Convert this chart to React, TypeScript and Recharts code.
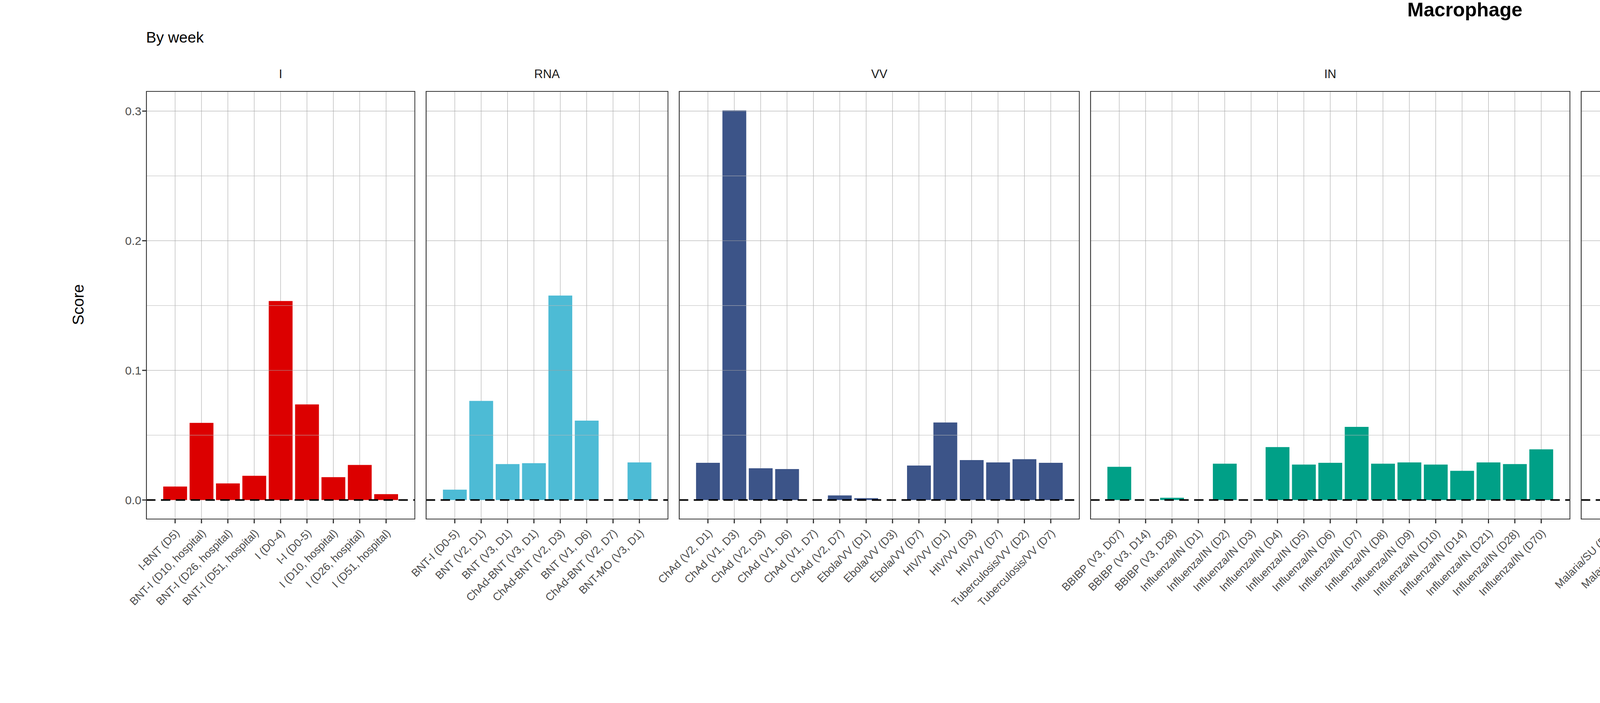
import React from "react";
import { BarChart, Bar, XAxis, YAxis, CartesianGrid, ReferenceLine } from "recharts";

const panelNames = ["I", "RNA", "VV", "IN", "SU", "CONJ", "N/SU", "LA", "PS"];
const iLabels = ["I-BNT (D5)", "BNT-I (D10, hospital)", "BNT-I (D26, hospital)", "BNT-I (D51, hospital)", "I (D0-4)", "I-I (D0-5)", "I (D10, hospital)", "I (D26, hospital)", "I (D51, hospital)"];
const iValues = [0.0104, 0.0595, 0.0128, 0.0187, 0.1535, 0.0737, 0.0176, 0.027, 0.0045];
const rnaLabels = ["BNT-I (D0-5)", "BNT (V2, D1)", "BNT (V3, D1)", "ChAd-BNT (V3, D1)", "ChAd-BNT (V2, D3)", "BNT (V1, D6)", "ChAd-BNT (V2, D7)", "BNT-MO (V3, D1)"];
const rnaValues = [0.008, 0.0764, 0.0277, 0.0284, 0.1577, 0.0612, 0, 0.029];
const vvLabels = ["ChAd (V2, D1)", "ChAd (V1, D3)", "ChAd (V2, D3)", "ChAd (V1, D6)", "ChAd (V1, D7)", "ChAd (V2, D7)", "Ebola/VV (D1)", "Ebola/VV (D3)", "Ebola/VV (D7)", "HIV/VV (D1)", "HIV/VV (D3)", "HIV/VV (D7)", "Tuberculosis/VV (D2)", "Tuberculosis/VV (D7)"];
const vvValues = [0.0287, 0.3005, 0.0245, 0.0239, 0, 0.0035, 0.0014, 0, 0.0266, 0.0598, 0.0308, 0.029, 0.0315, 0.0287];
const inLabels = ["BBIBP (V3, D07)", "BBIBP (V3, D14)", "BBIBP (V3, D28)", "Influenza/IN (D1)", "Influenza/IN (D2)", "Influenza/IN (D3)", "Influenza/IN (D4)", "Influenza/IN (D5)", "Influenza/IN (D6)", "Influenza/IN (D7)", "Influenza/IN (D8)", "Influenza/IN (D9)", "Influenza/IN (D10)", "Influenza/IN (D14)", "Influenza/IN (D21)", "Influenza/IN (D28)", "Influenza/IN (D70)"];
const inValues = [0.0256, 0, 0.0017, 0, 0.028, 0, 0.0408, 0.0273, 0.0287, 0.0564, 0.028, 0.029, 0.0273, 0.0225, 0.029, 0.0277, 0.0391];
const suLabels = ["Malaria/SU (D1)", "Malaria/SU (D3)", "Malaria/SU (D14)", "ZF2001 (V3, D07)", "ZF2001 (V3, D14)", "ZF2001 (V3, D28)"];
const suValues = [0, 0.0214, 0.0408, 0, 0.0069, 0.0436];
const conjLabels = ["Meningococcus/CONJ (D3)", "Meningococcus/CONJ (D7)"];
const conjValues = [0.0332, 0.0256];
const nsuLabels = ["Hepatitis A/B/IN/SU (D7)"];
const nsuValues = [0.0398];
const laLabels = ["Influenza/LA (D3)", "Influenza/LA (D7)", "Smallpox/LA (D3)", "Smallpox/LA (D7)", "Smallpox/LA (D10)", "Smallpox/LA (D13)", "Smallpox/LA (D21)", "Varicella Zoster/LA (D1)", "Varicella Zoster/LA (D3)", "Varicella Zoster/LA (D7)", "Yellow Fever/LA (D1)", "Yellow Fever/LA (D2)", "Yellow Fever/LA (D3)", "Yellow Fever/LA (D5)", "Yellow Fever/LA (D7)", "Yellow Fever/LA (D10)", "Yellow Fever/LA (D14)", "Yellow Fever/LA (D21)", "Yellow Fever/LA (D28)", "Yellow Fever/LA (D60)", "Yellow Fever/LA (D84)"];
const laValues = [0, 0.0194, 0.0284, 0.0263, 0.028, 0.0273, 0.029, 0.0284, 0.029, 0.0287, 0.0398, 0.0353, 0.0062, 0.0339, 0, 0.027, 0.0211, 0.0322, 0.0225, 0.0391, 0.0297];
const psLabels = ["Meningococcus/PS (D3)", "Meningococcus/PS (D7)", "Pneumococcus/PS (D1)", "Pneumococcus/PS (D3)", "Pneumococcus/PS (D7)", "Pneumococcus/PS (D10)", "Pneumococcus/PS (D14)", "Pneumococcus/PS (D21)", "Pneumococcus/PS (D28)"];
const psValues = [0.0284, 0.0287, 0.036, 0.0304, 0.0346, 0.0297, 0.029, 0.028, 0.0197];

const panelLabels = [iLabels, rnaLabels, vvLabels, inLabels, suLabels, conjLabels, nsuLabels, laLabels, psLabels];
const panelValues = [iValues, rnaValues, vvValues, inValues, suValues, conjValues, nsuValues, laValues, psValues];
const panelColors = ["#DC0000", "#4DBBD5", "#3C5488", "#00A087", "#8491B4", "#F39B7F", "#8491B4", "#E64B35", "#F39B7F"];

const legendTypes = ["CONJ", "I", "IN", "IN/SU", "LA", "PS", "RNA", "SU", "VV"];
const legendColors = ["#F39B7F", "#DC0000", "#00A087", "#8491B4", "#E64B35", "#F39B7F", "#4DBBD5", "#8491B4", "#3C5488"];

const yTicks = [0, 0.1, 0.2, 0.3];
const minorTicks = [0.05, 0.15, 0.25];

const FONT = "'Liberation Sans', Arial, Helvetica, sans-serif";
const PLOT_LEFT = 374;
const PLOT_TOP = 233;
const PLOT_H = 1097;
const GAP = 27;
const YW = 130;
const EXT = 420;
const UNIT = (7193 - PLOT_LEFT - 8 * GAP) / panelLabels.reduce((s, l) => s + l.length + 1.2, 0);

const RotTick = (props: any) => {
  const { x, y, payload } = props;
  return (
    <g transform={`translate(${x},${y + 12})`}>
      <text transform="rotate(-45)" textAnchor="end" dy={18} fontSize={28} fill="#4d4d4d" fontFamily={FONT}>
        {payload.value}
      </text>
    </g>
  );
};

function Panel({ idx, left }: { idx: number; left: number }) {
  const labels = panelLabels[idx];
  const values = panelValues[idx];
  const data = labels.map((l, i) => ({ label: l, value: values[i] }));
  const w = (labels.length + 1.2) * UNIT;
  const showY = idx === 0;
  const ext = showY ? 0 : EXT;
  const chartLeft = (showY ? left - YW : left) - ext;
  return (
    <>
      <div style={{ position: "absolute", left: chartLeft, top: PLOT_TOP }}>
        <BarChart width={w + (showY ? YW : 0) + ext} height={1800 - PLOT_TOP} data={data} margin={{ top: 0, right: 0, left: ext, bottom: 0 }} barCategoryGap="5%">
          <CartesianGrid horizontal={false} stroke="#a0a0a0" strokeWidth={1} />
          {minorTicks.map((t) => (
            <ReferenceLine key={"m" + t} y={t} stroke="#b8b8b8" strokeWidth={1} />
          ))}
          {yTicks.slice(1).map((t) => (
            <ReferenceLine key={"M" + t} y={t} stroke="#a0a0a0" strokeWidth={1} />
          ))}
          <XAxis
            dataKey="label"
            interval={0}
            height={1800 - PLOT_TOP - PLOT_H}
            padding={{ left: 0.6 * UNIT, right: 0.6 * UNIT }}
            axisLine={false}
            tickLine={{ stroke: "#333", strokeWidth: 3 }}
            tickSize={10}
            tick={<RotTick />}
          />
          <YAxis
            hide={!showY}
            width={YW}
            domain={[-0.015, 0.3155]}
            ticks={yTicks}
            allowDataOverflow
            axisLine={false}
            tickLine={{ stroke: "#333", strokeWidth: 3 }}
            tickSize={10}
            tickFormatter={(v: number) => v.toFixed(1)}
            tick={{ fontSize: 30, fill: "#4d4d4d", fontFamily: FONT }}
          />
          <Bar dataKey="value" fill={panelColors[idx]} isAnimationActive={false} />
          <ReferenceLine y={0} stroke="#000" strokeWidth={4} strokeDasharray="24 14" />
        </BarChart>
      </div>
      <div style={{ position: "absolute", left, top: PLOT_TOP, width: w, height: PLOT_H, border: "2px solid #333", boxSizing: "border-box", pointerEvents: "none" }} />
      <div style={{ position: "absolute", left, top: 172, width: w, textAlign: "center", fontSize: 31, fontFamily: FONT, color: "#1a1a1a", whiteSpace: "nowrap", overflow: "hidden" }}>
        {panelNames[idx]}
      </div>
    </>
  );
}

export default function App() {
  const lefts: number[] = [];
  let x = PLOT_LEFT;
  panelLabels.forEach((l) => {
    lefts.push(x);
    x += (l.length + 1.2) * UNIT + GAP;
  });
  return (
    <div style={{ position: "absolute", left: 0, top: 0, width: 7500, height: 1800, background: "#fff", fontFamily: FONT, overflow: "hidden" }}>
      <div style={{ position: "absolute", left: 0, width: 7500, top: -4, textAlign: "center", fontSize: 50, fontWeight: "bold" }}>Macrophage</div>
      <div style={{ position: "absolute", left: PLOT_LEFT, top: 74, fontSize: 39 }}>By week</div>
      <div style={{ position: "absolute", left: 200, top: 780, transform: "translate(-50%,-50%) rotate(-90deg)", fontSize: 40 }}>Score</div>
      {panelLabels.map((_, i) => (
        <Panel key={i} idx={i} left={lefts[i]} />
      ))}
      <div style={{ position: "absolute", left: 7270, top: 418, fontSize: 43 }}>Type</div>
      {legendTypes.map((t, i) => (
        <div key={t} style={{ position: "absolute", left: 7271, top: 496 + i * 72, height: 66, display: "flex", alignItems: "center" }}>
          <div style={{ width: 66, height: 66, background: legendColors[i] }} />
          <div style={{ marginLeft: 30, fontSize: 36 }}>{t}</div>
        </div>
      ))}
    </div>
  );
}
